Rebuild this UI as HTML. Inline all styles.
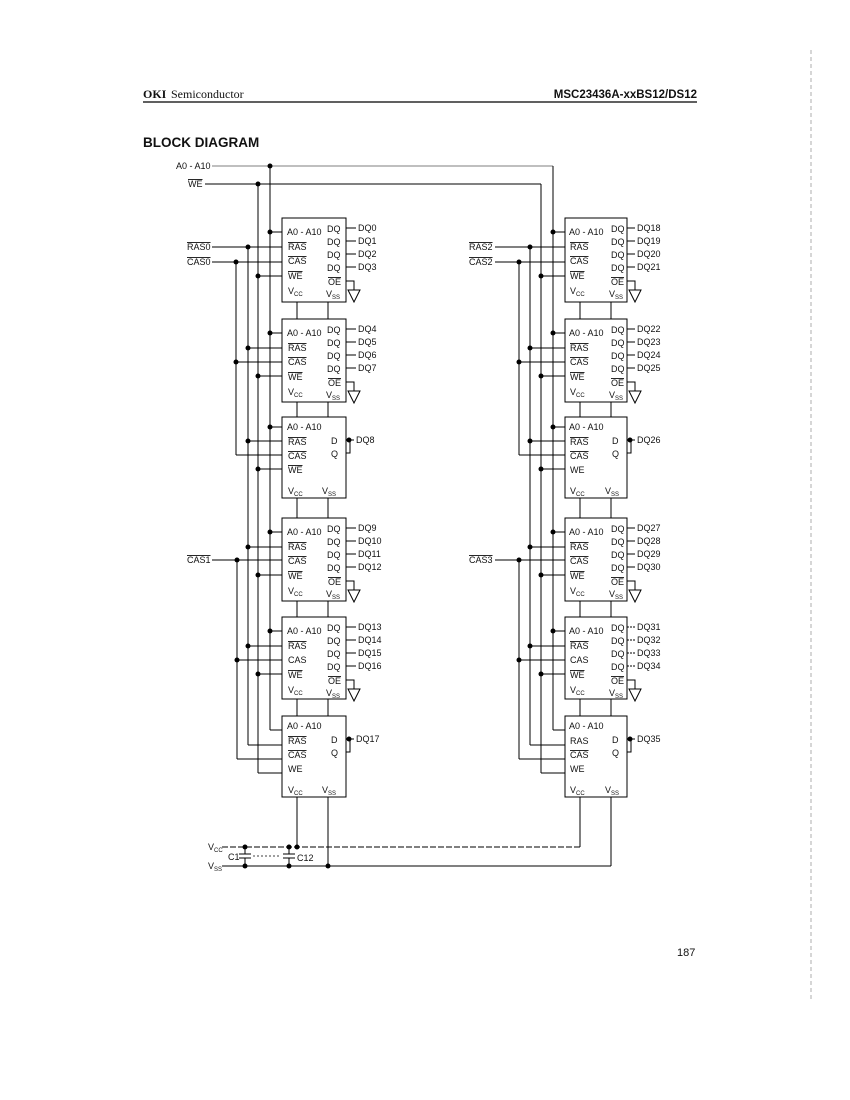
<!DOCTYPE html>
<html><head><meta charset="utf-8"><style>
html,body{margin:0;padding:0;background:#fff}
svg{display:block}
text{font-family:"Liberation Sans",sans-serif;font-size:9px;fill:#111}
.o{text-decoration:overline}
</style></head><body>
<svg width="850" height="1100" viewBox="0 0 850 1100" xmlns="http://www.w3.org/2000/svg">
<defs>
<g id="gnd"><polyline points="0,0 8,0 8,9" fill="none" stroke="#000" stroke-width="1"/><polygon points="2,9 14,9 8,21" fill="#fff" stroke="#000" stroke-width="1"/></g>
</defs>
<text x="143" y="98" style="font-family:'Liberation Serif',serif;font-size:12px;font-weight:bold">OKI</text>
<text x="171" y="98" style="font-family:'Liberation Serif',serif;font-size:12px">Semiconductor</text>
<text x="697" y="98" text-anchor="end" style="font-size:11.5px;font-weight:bold">MSC23436A-xxBS12/DS12</text>
<line x1="143" y1="102" x2="697" y2="102" stroke="#000" stroke-width="1.2"/>
<text x="143" y="147" style="font-size:13.5px;font-weight:bold">BLOCK DIAGRAM</text>
<line x1="811" y1="50" x2="811" y2="1000" stroke="#999" stroke-width="0.8" stroke-dasharray="4,3"/>
<text x="677" y="956" style="font-size:11px">187</text>

<g stroke="#000" stroke-width="1" fill="none">
<line x1="212" y1="166" x2="553" y2="166" stroke="#555" stroke-width="0.7"/>
<line x1="205" y1="184" x2="541" y2="184"/>
<line x1="270" y1="166" x2="270" y2="730"/>
<line x1="258" y1="184" x2="258" y2="773"/>
<line x1="248" y1="247" x2="248" y2="745"/>
<line x1="236" y1="262" x2="236" y2="455"/>
<line x1="237" y1="560" x2="237" y2="759"/>
<line x1="553" y1="166" x2="553" y2="730"/>
<line x1="541" y1="184" x2="541" y2="773"/>
<line x1="530" y1="247" x2="530" y2="745"/>
<line x1="519" y1="262" x2="519" y2="455"/>
<line x1="519" y1="560" x2="519" y2="759"/>
<line x1="212" y1="247" x2="282" y2="247"/><line x1="212" y1="262" x2="282" y2="262"/>
<line x1="212" y1="560" x2="282" y2="560"/>
<line x1="495" y1="247" x2="565" y2="247"/><line x1="495" y1="262" x2="565" y2="262"/>
<line x1="495" y1="560" x2="565" y2="560"/>
<line x1="297" y1="218" x2="297" y2="847"/><line x1="328" y1="218" x2="328" y2="866"/>
<line x1="580" y1="218" x2="580" y2="847"/><line x1="611" y1="218" x2="611" y2="866"/>
<line x1="222" y1="847" x2="580" y2="847" stroke-dasharray="6,2"/>
<line x1="222" y1="866" x2="611" y2="866"/>
</g>

<g stroke="#000" stroke-width="1" fill="none">
<path d="M270 232H282M248 247H282M236 262H282M258 276H282
M270 333H282M248 348H282M236 362H282M258 376H282
M270 427H282M248 441H282M236 455H282M258 469H282
M270 532H282M248 547H282M237 560H282M258 575H282
M270 631H282M248 646H282M237 660H282M258 674H282
M270 730H282M248 745H282M237 759H282M258 773H282"/>
<path d="M553 232H565M530 247H565M519 262H565M541 276H565
M553 333H565M530 348H565M519 362H565M541 376H565
M553 427H565M530 441H565M519 455H565M541 469H565
M553 532H565M530 547H565M519 560H565M541 575H565
M553 631H565M530 646H565M519 660H565M541 674H565
M553 730H565M530 745H565M519 759H565M541 773H565"/>
</g>
<g fill="#000">
<circle cx="270" cy="166" r="2.5"/><circle cx="258" cy="184" r="2.5"/>
<circle cx="248" cy="247" r="2.5"/><circle cx="236" cy="262" r="2.5"/><circle cx="237" cy="560" r="2.5"/>
<circle cx="270" cy="232" r="2.5"/><circle cx="258" cy="276" r="2.5"/>
<circle cx="270" cy="333" r="2.5"/><circle cx="248" cy="348" r="2.5"/><circle cx="236" cy="362" r="2.5"/><circle cx="258" cy="376" r="2.5"/>
<circle cx="270" cy="427" r="2.5"/><circle cx="248" cy="441" r="2.5"/><circle cx="258" cy="469" r="2.5"/>
<circle cx="270" cy="532" r="2.5"/><circle cx="248" cy="547" r="2.5"/><circle cx="258" cy="575" r="2.5"/>
<circle cx="270" cy="631" r="2.5"/><circle cx="248" cy="646" r="2.5"/><circle cx="237" cy="660" r="2.5"/><circle cx="258" cy="674" r="2.5"/>
<circle cx="530" cy="247" r="2.5"/><circle cx="519" cy="262" r="2.5"/><circle cx="519" cy="560" r="2.5"/>
<circle cx="553" cy="232" r="2.5"/><circle cx="541" cy="276" r="2.5"/>
<circle cx="553" cy="333" r="2.5"/><circle cx="530" cy="348" r="2.5"/><circle cx="519" cy="362" r="2.5"/><circle cx="541" cy="376" r="2.5"/>
<circle cx="553" cy="427" r="2.5"/><circle cx="530" cy="441" r="2.5"/><circle cx="541" cy="469" r="2.5"/>
<circle cx="553" cy="532" r="2.5"/><circle cx="530" cy="547" r="2.5"/><circle cx="541" cy="575" r="2.5"/>
<circle cx="553" cy="631" r="2.5"/><circle cx="530" cy="646" r="2.5"/><circle cx="519" cy="660" r="2.5"/><circle cx="541" cy="674" r="2.5"/>
<circle cx="245" cy="847" r="2.5"/><circle cx="245" cy="866" r="2.5"/><circle cx="289" cy="847" r="2.5"/><circle cx="297" cy="847" r="2.5"/><circle cx="289" cy="866" r="2.5"/><circle cx="328" cy="866" r="2.5"/>
</g>
<text x="176" y="169">A0 - A10</text>
<text x="188" y="187" class="o">WE</text>
<text x="187" y="250" class="o">RAS0</text><text x="187" y="265" class="o">CAS0</text>
<text x="187" y="563" class="o">CAS1</text>
<text x="469" y="250" class="o">RAS2</text><text x="469" y="265" class="o">CAS2</text>
<text x="469" y="563" class="o">CAS3</text>
<g stroke="#000" stroke-width="1">
<line x1="245" y1="847" x2="245" y2="854"/><line x1="239" y1="854" x2="251" y2="854"/><line x1="239" y1="858" x2="251" y2="858"/><line x1="245" y1="858" x2="245" y2="866"/>
<line x1="289" y1="847" x2="289" y2="854"/><line x1="283" y1="854" x2="295" y2="854"/><line x1="283" y1="858" x2="295" y2="858"/><line x1="289" y1="858" x2="289" y2="866"/>
<line x1="253" y1="856" x2="281" y2="856" stroke-dasharray="2,2" stroke-width="0.7"/>
</g>
<text x="208" y="850">V<tspan font-size="6" dy="2">CC</tspan></text>
<text x="208" y="869">V<tspan font-size="6" dy="2">SS</tspan></text>
<text x="228" y="860">C1</text><text x="297" y="861">C12</text>

<!-- LEFT BOXES -->
<g transform="translate(282,218)"><rect width="64" height="84" fill="#fff" stroke="#000"/>
<text x="5" y="17">A0 - A10</text><text x="45" y="14">DQ</text><text x="45" y="27">DQ</text><text x="45" y="40">DQ</text><text x="45" y="53">DQ</text>
<text x="6" y="32" class="o">RAS</text><text x="6" y="46" class="o">CAS</text><text x="6" y="61" class="o">WE</text><text x="6" y="76">V<tspan font-size="6" dy="2">CC</tspan></text>
<text x="46" y="67" class="o">OE</text><text x="44" y="79">V<tspan font-size="6" dy="2">SS</tspan></text>
<path d="M64 10H74M64 23H74M64 36H74M64 49H74" stroke="#000"/><use href="#gnd" x="64" y="63"/>
<text x="76" y="13">DQ0</text><text x="76" y="26">DQ1</text><text x="76" y="39">DQ2</text><text x="76" y="52">DQ3</text></g>

<g transform="translate(282,319)"><rect width="64" height="83" fill="#fff" stroke="#000"/>
<text x="5" y="17">A0 - A10</text><text x="45" y="14">DQ</text><text x="45" y="27">DQ</text><text x="45" y="40">DQ</text><text x="45" y="53">DQ</text>
<text x="6" y="32" class="o">RAS</text><text x="6" y="46" class="o">CAS</text><text x="6" y="61" class="o">WE</text><text x="6" y="76">V<tspan font-size="6" dy="2">CC</tspan></text>
<text x="46" y="67" class="o">OE</text><text x="44" y="79">V<tspan font-size="6" dy="2">SS</tspan></text>
<path d="M64 10H74M64 23H74M64 36H74M64 49H74" stroke="#000"/><use href="#gnd" x="64" y="63"/>
<text x="76" y="13">DQ4</text><text x="76" y="26">DQ5</text><text x="76" y="39">DQ6</text><text x="76" y="52">DQ7</text></g>

<g transform="translate(282,417)"><rect width="64" height="81" fill="#fff" stroke="#000"/>
<text x="5" y="13">A0 - A10</text><text x="6" y="28" class="o">RAS</text><text x="6" y="42" class="o">CAS</text><text x="6" y="56" class="o">WE</text>
<text x="6" y="77">V<tspan font-size="6" dy="2">CC</tspan></text><text x="40" y="77">V<tspan font-size="6" dy="2">SS</tspan></text>
<text x="49" y="27">D</text><text x="49" y="40">Q</text>
<path d="M64 23H72M64 36H68V23" stroke="#000" fill="none"/><circle cx="67" cy="23" r="2.5"/>
<text x="74" y="26">DQ8</text></g>

<g transform="translate(282,518)"><rect width="64" height="83" fill="#fff" stroke="#000"/>
<text x="5" y="17">A0 - A10</text><text x="45" y="14">DQ</text><text x="45" y="27">DQ</text><text x="45" y="40">DQ</text><text x="45" y="53">DQ</text>
<text x="6" y="32" class="o">RAS</text><text x="6" y="46" class="o">CAS</text><text x="6" y="61" class="o">WE</text><text x="6" y="76">V<tspan font-size="6" dy="2">CC</tspan></text>
<text x="46" y="67" class="o">OE</text><text x="44" y="79">V<tspan font-size="6" dy="2">SS</tspan></text>
<path d="M64 10H74M64 23H74M64 36H74M64 49H74" stroke="#000"/><use href="#gnd" x="64" y="63"/>
<text x="76" y="13">DQ9</text><text x="76" y="26">DQ10</text><text x="76" y="39">DQ11</text><text x="76" y="52">DQ12</text></g>

<g transform="translate(282,617)"><rect width="64" height="82" fill="#fff" stroke="#000"/>
<text x="5" y="17">A0 - A10</text><text x="45" y="14">DQ</text><text x="45" y="27">DQ</text><text x="45" y="40">DQ</text><text x="45" y="53">DQ</text>
<text x="6" y="32" class="o">RAS</text><text x="6" y="46">CAS</text><text x="6" y="61" class="o">WE</text><text x="6" y="76">V<tspan font-size="6" dy="2">CC</tspan></text>
<text x="46" y="67" class="o">OE</text><text x="44" y="79">V<tspan font-size="6" dy="2">SS</tspan></text>
<path d="M64 10H74M64 23H74M64 36H74M64 49H74" stroke="#000"/><use href="#gnd" x="64" y="63"/>
<text x="76" y="13">DQ13</text><text x="76" y="26">DQ14</text><text x="76" y="39">DQ15</text><text x="76" y="52">DQ16</text></g>

<g transform="translate(282,716)"><rect width="64" height="81" fill="#fff" stroke="#000"/>
<text x="5" y="13">A0 - A10</text><text x="6" y="28" class="o">RAS</text><text x="6" y="42" class="o">CAS</text><text x="6" y="56">WE</text>
<text x="6" y="77">V<tspan font-size="6" dy="2">CC</tspan></text><text x="40" y="77">V<tspan font-size="6" dy="2">SS</tspan></text>
<text x="49" y="27">D</text><text x="49" y="40">Q</text>
<path d="M64 23H72M64 36H68V23" stroke="#000" fill="none"/><circle cx="67" cy="23" r="2.5"/>
<text x="74" y="26">DQ17</text></g>

<!-- RIGHT BOXES -->
<g transform="translate(565,218)"><rect width="62" height="84" fill="#fff" stroke="#000"/>
<text x="4" y="17">A0 - A10</text><text x="46" y="14">DQ</text><text x="46" y="27">DQ</text><text x="46" y="40">DQ</text><text x="46" y="53">DQ</text>
<text x="5" y="32" class="o">RAS</text><text x="5" y="46" class="o">CAS</text><text x="5" y="61" class="o">WE</text><text x="5" y="76">V<tspan font-size="6" dy="2">CC</tspan></text>
<text x="46" y="67" class="o">OE</text><text x="44" y="79">V<tspan font-size="6" dy="2">SS</tspan></text>
<path d="M62 10H70M62 23H70M62 36H70M62 49H70" stroke="#000"/><use href="#gnd" x="62" y="63"/>
<text x="72" y="13">DQ18</text><text x="72" y="26">DQ19</text><text x="72" y="39">DQ20</text><text x="72" y="52">DQ21</text></g>

<g transform="translate(565,319)"><rect width="62" height="83" fill="#fff" stroke="#000"/>
<text x="4" y="17">A0 - A10</text><text x="46" y="14">DQ</text><text x="46" y="27">DQ</text><text x="46" y="40">DQ</text><text x="46" y="53">DQ</text>
<text x="5" y="32" class="o">RAS</text><text x="5" y="46" class="o">CAS</text><text x="5" y="61" class="o">WE</text><text x="5" y="76">V<tspan font-size="6" dy="2">CC</tspan></text>
<text x="46" y="67" class="o">OE</text><text x="44" y="79">V<tspan font-size="6" dy="2">SS</tspan></text>
<path d="M62 10H70M62 23H70M62 36H70M62 49H70" stroke="#000"/><use href="#gnd" x="62" y="63"/>
<text x="72" y="13">DQ22</text><text x="72" y="26">DQ23</text><text x="72" y="39">DQ24</text><text x="72" y="52">DQ25</text></g>

<g transform="translate(565,417)"><rect width="62" height="81" fill="#fff" stroke="#000"/>
<text x="4" y="13">A0 - A10</text><text x="5" y="28" class="o">RAS</text><text x="5" y="42" class="o">CAS</text><text x="5" y="56">WE</text>
<text x="5" y="77">V<tspan font-size="6" dy="2">CC</tspan></text><text x="40" y="77">V<tspan font-size="6" dy="2">SS</tspan></text>
<text x="47" y="27">D</text><text x="47" y="40">Q</text>
<path d="M62 23H70M62 36H66V23" stroke="#000" fill="none"/><circle cx="65" cy="23" r="2.5"/>
<text x="72" y="26">DQ26</text></g>

<g transform="translate(565,518)"><rect width="62" height="83" fill="#fff" stroke="#000"/>
<text x="4" y="17">A0 - A10</text><text x="46" y="14">DQ</text><text x="46" y="27">DQ</text><text x="46" y="40">DQ</text><text x="46" y="53">DQ</text>
<text x="5" y="32" class="o">RAS</text><text x="5" y="46" class="o">CAS</text><text x="5" y="61" class="o">WE</text><text x="5" y="76">V<tspan font-size="6" dy="2">CC</tspan></text>
<text x="46" y="67" class="o">OE</text><text x="44" y="79">V<tspan font-size="6" dy="2">SS</tspan></text>
<path d="M62 10H70M62 23H70M62 36H70M62 49H70" stroke="#000"/><use href="#gnd" x="62" y="63"/>
<text x="72" y="13">DQ27</text><text x="72" y="26">DQ28</text><text x="72" y="39">DQ29</text><text x="72" y="52">DQ30</text></g>

<g transform="translate(565,617)"><rect width="62" height="82" fill="#fff" stroke="#000"/>
<text x="4" y="17">A0 - A10</text><text x="46" y="14">DQ</text><text x="46" y="27">DQ</text><text x="46" y="40">DQ</text><text x="46" y="53">DQ</text>
<text x="5" y="32" class="o">RAS</text><text x="5" y="46">CAS</text><text x="5" y="61" class="o">WE</text><text x="5" y="76">V<tspan font-size="6" dy="2">CC</tspan></text>
<text x="46" y="67" class="o">OE</text><text x="44" y="79">V<tspan font-size="6" dy="2">SS</tspan></text>
<path d="M62 10H70M62 23H70M62 36H70M62 49H70" stroke="#000" stroke-dasharray="2,1"/><use href="#gnd" x="62" y="63"/>
<text x="72" y="13">DQ31</text><text x="72" y="26">DQ32</text><text x="72" y="39">DQ33</text><text x="72" y="52">DQ34</text></g>

<g transform="translate(565,716)"><rect width="62" height="81" fill="#fff" stroke="#000"/>
<text x="4" y="13">A0 - A10</text><text x="5" y="28">RAS</text><text x="5" y="42" class="o">CAS</text><text x="5" y="56">WE</text>
<text x="5" y="77">V<tspan font-size="6" dy="2">CC</tspan></text><text x="40" y="77">V<tspan font-size="6" dy="2">SS</tspan></text>
<text x="47" y="27">D</text><text x="47" y="40">Q</text>
<path d="M62 23H70M62 36H66V23" stroke="#000" fill="none"/><circle cx="65" cy="23" r="2.5"/>
<text x="72" y="26">DQ35</text></g>
</svg>
</body></html>
